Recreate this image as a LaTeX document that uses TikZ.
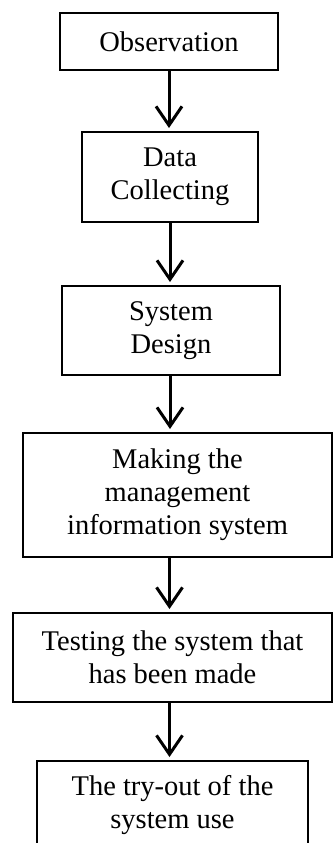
\documentclass[tikz,border=0pt]{standalone}
\usepackage{fontspec}
\setmainfont{Liberation Serif}
\usepackage{tikz}
\usetikzlibrary{arrows.meta,positioning}

\begin{document}
\begin{tikzpicture}[x=1pt,y=1pt,
        stage/.style={draw=black,line width=1.6pt,fill=white,align=center,
                    font=\fontsize{28.5}{33}\selectfont,inner sep=0pt,outer sep=0pt},
        arr/.style={-{Straight Barb[length=19pt,width=26pt]},line width=3pt,shorten >=4pt}
      ]
        \useasboundingbox (0,0) rectangle (333,-843);
        \node[stage,minimum width=218pt,minimum height=57pt] (obs) at (169,-41.5) {Observation};
        \node[stage,minimum width=176pt,minimum height=90pt,below=62pt of obs,xshift=1pt] (data) {Data\\Collecting};
        \node[stage,minimum width=218pt,minimum height=89pt,below=64pt of data,xshift=1pt] (design) {System\\Design};
        \node[stage,minimum width=309pt,minimum height=124pt,below=58pt of design,xshift=6.5pt] (mis) {Making the\\management\\information system};
        \node[stage,minimum width=319pt,minimum height=89pt,below=56pt of mis,xshift=-5pt] (test) {Testing the system that\\has been made};
        \node[stage,minimum width=271pt,minimum height=89pt,below=59pt of test] (tryout) {The try-out of the\\system use};
        \draw[arr] (obs.south) -- (obs.south |- data.north);
        \draw[arr] (data.south) -- (data.south |- design.north);
        \draw[arr] ([xshift=-1pt]design.south) -- ([xshift=-1pt]design.south |- mis.north);
        \draw[arr] ([xshift=-8pt]mis.south) -- ([xshift=-8pt]mis.south |- test.north);
        \draw[arr] ([xshift=-3pt]test.south) -- ([xshift=-3pt]test.south |- tryout.north);
      \end{tikzpicture}
\end{document}
